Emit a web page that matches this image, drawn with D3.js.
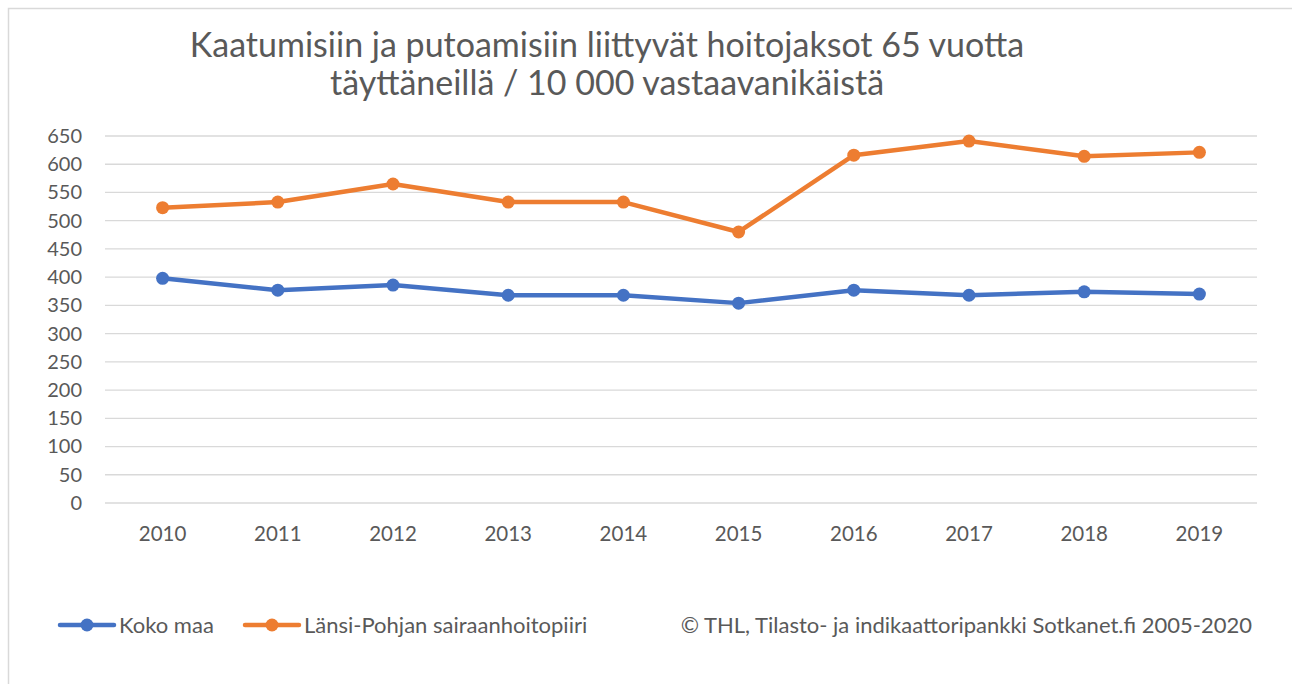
<!DOCTYPE html>
<html>
<head>
<meta charset="utf-8">
<script src="https://cdn.jsdelivr.net/npm/d3@7"></script>
<style>
  body { margin: 0; background: #fff; }
  text { font-family: Lato, "Open Sans", sans-serif; fill: #595959; }
</style>
</head>
<body>
<div id="chart"></div>
<script>
// data
var years = ["2010", "2011", "2012", "2013", "2014", "2015", "2016", "2017", "2018", "2019"];
var kokoMaa = [398, 377, 386, 368, 368, 354, 377, 368, 374, 370];
var lansiPohja = [523, 533, 565, 533, 533, 480, 616, 641, 614, 621];
var yTicks = [0, 50, 100, 150, 200, 250, 300, 350, 400, 450, 500, 550, 600, 650];
var seriesNames = ["Koko maa", "Länsi-Pohjan sairaanhoitopiiri"];
var titleLines = ["Kaatumisiin ja putoamisiin liittyvät hoitojaksot 65 vuotta",
                  "täyttäneillä / 10 000 vastaavanikäistä"];
var sourceText = "© THL, Tilasto- ja indikaattoripankki Sotkanet.fi 2005-2020";

var width = 1292,
    height = 684;
var colors = ["#4472C4", "#ED7D31"];

var svg = d3.select("#chart")
    .append("svg")
    .attr("width", width)
    .attr("height", height);

// chart frame (runs off the right and bottom of the window)
svg.append("rect")
    .attr("x", 8.5)
    .attr("y", 8.5)
    .attr("width", 1300)
    .attr("height", 700)
    .attr("fill", "#fff")
    .attr("stroke", "#d9d9d9")
    .attr("stroke-width", 1.5);

// title
svg.append("g")
    .selectAll("text")
    .data(titleLines)
    .enter()
    .append("text")
    .attr("x", 607)
    .attr("y", function (d, i) { return 57 + i * 38; })
    .attr("text-anchor", "middle")
    .style("font-size", "34px")
    .text(function (d) { return d; });

var plot = { left: 105, right: 1257, top: 136, bottom: 503 };

var x = d3.scaleBand()
    .domain(years)
    .range([plot.left, plot.right]);

var y = d3.scaleLinear()
    .domain([0, 650])
    .range([plot.bottom, plot.top]);

// gridlines
svg.append("g")
    .selectAll("line")
    .data(yTicks)
    .enter()
    .append("line")
    .attr("x1", plot.left)
    .attr("x2", plot.right)
    .attr("y1", function (d) { return y(d); })
    .attr("y2", function (d) { return y(d); })
    .attr("stroke", "#d9d9d9")
    .attr("stroke-width", 1.3);

// y axis labels
var yAxis = svg.append("g")
    .attr("transform", "translate(" + (plot.left - 23) + ",0)")
    .call(d3.axisLeft(y).tickValues(yTicks).tickSize(0).tickPadding(0));
yAxis.select(".domain").remove();
yAxis.selectAll("text")
    .attr("fill", "#595959")
    .style("font-size", "20px")
    .style("font-family", "Lato, 'Open Sans', sans-serif");

// x axis labels
var xAxis = svg.append("g")
    .attr("transform", "translate(0," + plot.bottom + ")")
    .call(d3.axisBottom(x).tickSize(0).tickPadding(23));
xAxis.select(".domain").remove();
xAxis.selectAll("text")
    .attr("fill", "#595959")
    .style("font-size", "20.5px")
    .style("font-family", "Lato, 'Open Sans', sans-serif");

// series
var series = [kokoMaa, lansiPohja];
var line = d3.line()
    .x(function (d, i) { return x(years[i]) + x.bandwidth() / 2; })
    .y(function (d) { return y(d); });

series.forEach(function (vals, s) {
    svg.append("path")
        .datum(vals)
        .attr("d", line)
        .attr("fill", "none")
        .attr("stroke", colors[s])
        .attr("stroke-width", 4.5)
        .attr("stroke-linejoin", "round")
        .attr("stroke-linecap", "round");

    svg.append("g")
        .selectAll("circle")
        .data(vals)
        .enter()
        .append("circle")
        .attr("cx", function (d, i) { return x(years[i]) + x.bandwidth() / 2; })
        .attr("cy", function (d) { return y(d); })
        .attr("r", 6.5)
        .attr("fill", colors[s]);
});

// legend
var legendX = [60, 245];
var legend = svg.append("g")
    .selectAll("g")
    .data(seriesNames)
    .enter()
    .append("g")
    .attr("transform", function (d, i) { return "translate(" + legendX[i] + ",625)"; });

legend.append("line")
    .attr("x1", 0)
    .attr("x2", 54)
    .attr("stroke", function (d, i) { return colors[i]; })
    .attr("stroke-width", 4.5)
    .attr("stroke-linecap", "round");

legend.append("circle")
    .attr("cx", 27)
    .attr("r", 6.5)
    .attr("fill", function (d, i) { return colors[i]; });

legend.append("text")
    .attr("x", 59)
    .attr("y", 8)
    .style("font-size", "22px")
    .text(function (d) { return d; });

// source note
svg.append("text")
    .attr("x", 1252)
    .attr("y", 633)
    .attr("text-anchor", "end")
    .style("font-size", "22px")
    .text(sourceText);
</script>
</body>
</html>
